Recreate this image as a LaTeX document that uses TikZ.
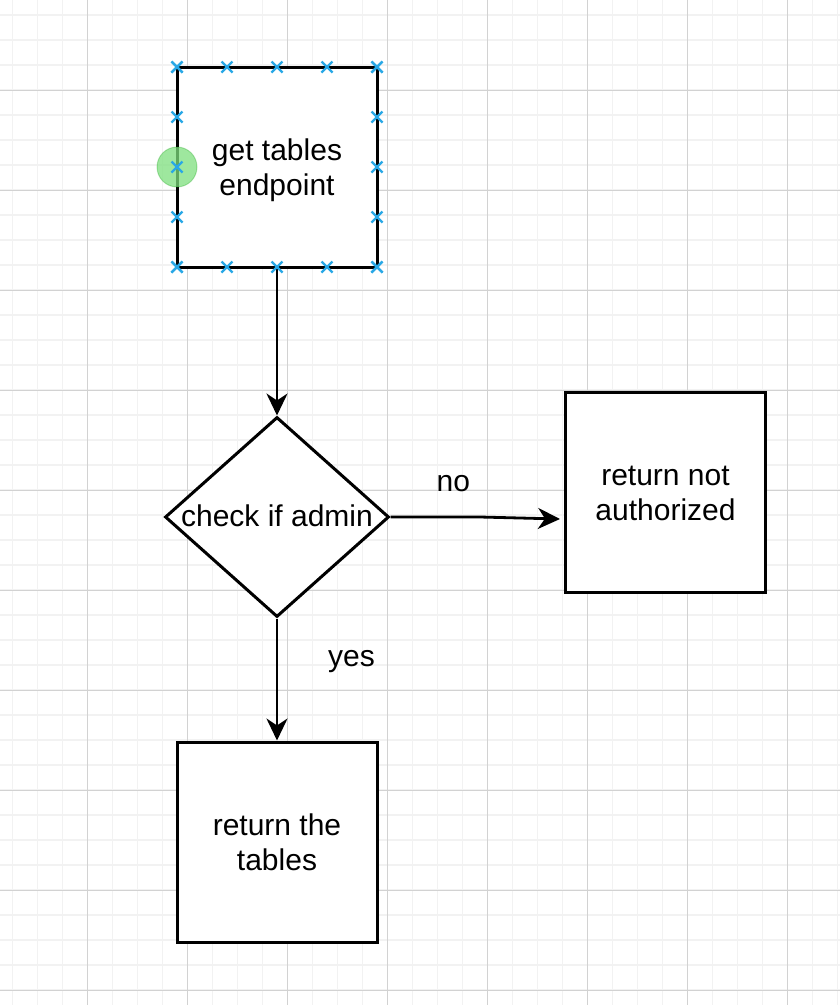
\documentclass[tikz,border=0pt]{standalone}
\usepackage{fontspec}
\setmainfont{Liberation Sans}
\usetikzlibrary{shapes.geometric,arrows.meta}
\definecolor{minorgrid}{HTML}{F2F2F2}
\definecolor{majorgrid}{HTML}{D2D2D2}
\definecolor{xblue}{HTML}{29A8E6}
\definecolor{hlgreen}{HTML}{7EE07E}
\newcommand{\twolines}[2]{\raisebox{6.8pt}[0pt][0pt]{\makebox[0pt]{#1}}\raisebox{-28.4pt}[0pt][0pt]{\makebox[0pt]{#2}}}
\newcommand{\oneline}[1]{\raisebox{-9.8pt}[0pt][0pt]{\makebox[0pt]{#1}}}
\begin{document}
\begin{tikzpicture}[x=1pt,y=-1pt,
  txt/.style={font=\fontsize{30}{36}\selectfont},
  box/.style={draw,line width=3pt,minimum width=200pt,minimum height=200pt,inner sep=0pt,fill=white,txt},
  diam/.style={draw,diamond,line width=3pt,minimum width=224pt,minimum height=200pt,inner sep=0pt,fill=white,txt},
  conn/.style={line width=2.8pt,-{Stealth[length=22pt,width=21pt,inset=7pt]}},
  lbl/.style={txt,inner sep=0pt,anchor=base},
  xmark/.style={xblue,line width=2.4pt}]
\useasboundingbox (0,0) rectangle (840,1005);
\fill[white] (0,0) rectangle (840,1005);
% grid
\foreach \i in {0,...,33} {\draw[minorgrid,line width=1.5pt] (12.5+25*\i,0) -- (12.5+25*\i,1005);}
\foreach \i in {0,...,40} {\draw[minorgrid,line width=1.5pt] (0,15+25*\i) -- (840,15+25*\i);}
\foreach \i in {0,...,7} {\draw[majorgrid,line width=1pt] (87.5+100*\i,0) -- (87.5+100*\i,1005);}
\foreach \i in {0,...,9} {\draw[majorgrid,line width=1pt] (0,90+100*\i) -- (840,90+100*\i);}
% nodes
\node[box] (start) at (277,167) {\twolines{get tables}{endpoint}};
\node[diam] (check) at (277,517) {\oneline{check if admin}};
\node[box] (deny) at (665.5,492) {\twolines{return not}{authorized}};
\node[box] (ret) at (277,842) {\twolines{return the}{tables}};
% connectors
\coordinate (bend) at (480,517);
\coordinate (denyin) at ([yshift=-27pt,xshift=-4pt]deny.west);
\draw[conn] (start.south) -- (check.north);
\draw[conn] (check.east) -- (bend) -- (denyin);
\draw[conn] (check.south) -- (ret.north);
\node[lbl] (no) at (453.3,491) {no};
\node[lbl] (yes) at (351.5,666.3) {yes};
% selection markers
\fill[hlgreen,opacity=0.75] (177,167) circle (20);
\draw[green!60!black,opacity=0.25,line width=1pt] (177,167) circle (20);
\foreach \t in {0,50,100,150,200} {
  \foreach \p in {(177+\t,67),(177+\t,267),(177,67+\t),(377,67+\t)} {
    \draw[xmark] \p ++(-5.5,-5.5) -- ++(11,11) ++(0,-11) -- ++(-11,11);
  }
}
\end{tikzpicture}
\end{document}
